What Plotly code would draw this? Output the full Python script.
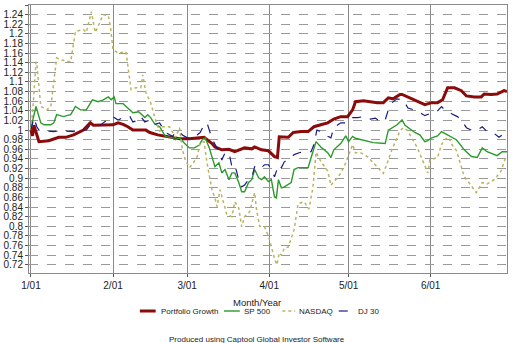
import pandas as pd
import plotly.graph_objects as go

START = "2001-01-01"

# Portfolio Growth (day offset from START, value)
pg_day = [0, 0.6, 1.1, 3.0, 6.7, 10.5, 13.1, 16.1, 19.8, 22.4, 23.6, 27.3, 31.0, 32.9, 34.8, 36.6,
          38.5, 43.4, 44.9, 47.9, 50.8, 53.5, 56.1, 59.8, 63.6, 65.4, 68.4, 69.5, 72.1, 74.8, 77.0,
          80.7, 83.4, 84.5, 87.1, 89.7, 92.0, 93.1, 93.8, 97.2, 99.1, 102.1, 104.7, 106.9, 109.5,
          112.1, 114.4, 117.0, 119.6, 121.5, 122.6, 125.6, 128.2, 130.8, 133.1, 135.0, 136.8, 139.4,
          140.2, 142.4, 145.0, 148.8, 151.4, 153.6, 155.5, 157.4, 160.0, 162.6, 164.5, 167.5, 170.1,
          171.2, 173.8, 176.1, 178.7, 179.8]
pg_val = [1.000, 0.988, 1.010, 0.976, 0.978, 0.985, 0.985, 0.990, 1.000, 1.015, 1.010, 1.011, 1.011,
          1.015, 1.012, 1.007, 1.000, 1.000, 0.995, 0.990, 0.987, 0.985, 0.982, 0.982, 0.984, 0.985,
          0.972, 0.965, 0.959, 0.960, 0.955, 0.963, 0.961, 0.965, 0.959, 0.957, 0.945, 0.943, 0.986,
          0.985, 0.995, 0.997, 0.997, 1.007, 1.011, 1.015, 1.023, 1.028, 1.028, 1.042, 1.059, 1.061,
          1.059, 1.057, 1.057, 1.067, 1.065, 1.074, 1.074, 1.069, 1.063, 1.053, 1.057, 1.057, 1.063,
          1.088, 1.088, 1.082, 1.071, 1.069, 1.069, 1.075, 1.074, 1.075, 1.082, 1.080]

# SP 500
sp_day = [0, 1.9, 3.7, 4.9, 7.5, 8.6, 9.7, 12.3, 13.5, 15.0, 16.8, 18.7, 20.9, 23.2, 25.4, 27.3, 29.2,
          30.3, 31.4, 32.1, 34.8, 36.6, 38.5, 40.7, 43.0, 44.1, 45.2, 46.7, 48.6, 50.8, 53.5, 54.6,
          56.1, 57.9, 59.8, 61.7, 63.6, 64.7, 65.8, 67.3, 68.4, 69.5, 71.0, 72.1, 73.3, 74.8, 75.9,
          77.0, 78.5, 79.6, 80.7, 82.2, 83.4, 84.5, 86.0, 87.1, 88.2, 89.7, 90.8, 92.0, 92.7, 93.5,
          94.6, 95.7, 98.3, 99.4, 100.9, 104.7, 106.5, 107.7, 109.5, 112.1, 113.3, 114.4, 117.0,
          118.9, 120.0, 121.5, 122.6, 127.1, 129.3, 133.8, 135.0, 138.3, 140.2, 141.3, 142.4, 145.0,
          146.9, 148.8, 149.9, 151.4, 153.6, 155.1, 156.3, 157.4, 160.7, 163.7, 166.4, 168.6, 170.5,
          172.3, 176.1, 178.0, 179.8]
sp_val = [1.005, 1.049, 1.015, 1.011, 1.011, 1.015, 1.032, 1.028, 1.030, 1.032, 1.049, 1.042, 1.042,
          1.063, 1.059, 1.063, 1.069, 1.063, 1.069, 1.055, 1.055, 1.046, 1.036, 1.038, 1.026, 1.032,
          1.026, 1.013, 1.007, 0.987, 0.984, 0.980, 0.984, 0.973, 0.963, 0.963, 0.969, 0.980, 0.984,
          0.964, 0.943, 0.924, 0.932, 0.911, 0.918, 0.897, 0.911, 0.911, 0.891, 0.872, 0.872, 0.891,
          0.897, 0.918, 0.901, 0.897, 0.903, 0.893, 0.897, 0.861, 0.859, 0.897, 0.880, 0.882, 0.891,
          0.918, 0.922, 0.922, 0.955, 0.976, 0.965, 0.953, 0.943, 0.959, 0.972, 0.988, 0.976, 0.987,
          0.983, 0.976, 0.974, 0.972, 1.000, 1.011, 1.021, 1.010, 1.005, 0.995, 0.990, 0.976, 0.978,
          0.984, 0.988, 0.997, 0.993, 0.990, 0.980, 0.959, 0.945, 0.943, 0.963, 0.955, 0.947, 0.955,
          0.955]

# NASDAQ
nq_day = [0, 0.8, 1.9, 2.2, 3.7, 6.0, 7.5, 9.7, 11.2, 15.0, 16.8, 19.8, 20.9, 22.8, 24.3, 27.3, 29.2,
          30.0, 31.0, 32.9, 35.9, 37.8, 39.6, 41.5, 42.2, 43.4, 45.2, 47.1, 48.6, 49.7, 52.3, 54.6,
          56.1, 57.2, 58.3, 59.8, 60.9, 62.8, 63.9, 65.4, 66.5, 68.4, 69.5, 70.3, 71.4, 72.9, 74.0,
          75.9, 77.0, 78.5, 79.6, 80.7, 82.6, 84.5, 85.2, 86.4, 88.2, 89.7, 90.8, 92.0, 92.9, 93.8,
          94.6, 95.7, 97.2, 98.3, 99.4, 100.9, 103.2, 105.0, 106.5, 107.7, 109.5, 112.1, 113.3, 115.1,
          117.0, 118.9, 120.0, 121.5, 122.6, 124.5, 127.1, 129.3, 132.0, 133.1, 135.0, 136.4, 139.4,
          140.6, 142.1, 143.2, 145.8, 148.8, 149.9, 150.7, 153.6, 155.1, 156.3, 157.8, 159.0, 160.7,
          163.7, 166.4, 168.2, 170.5, 172.3, 175.0, 177.6, 179.4]
nq_val = [1.000, 1.050, 1.142, 1.138, 1.049, 1.042, 1.049, 1.150, 1.146, 1.142, 1.205, 1.209, 1.203,
          1.246, 1.203, 1.240, 1.238, 1.215, 1.167, 1.160, 1.163, 1.084, 1.088, 1.088, 1.115, 1.078,
          1.057, 1.020, 0.997, 1.007, 1.007, 0.985, 1.005, 0.959, 0.938, 0.922, 0.928, 0.945, 0.974,
          0.976, 0.932, 0.875, 0.859, 0.841, 0.876, 0.848, 0.824, 0.820, 0.851, 0.838, 0.799, 0.820,
          0.830, 0.870, 0.835, 0.800, 0.799, 0.780, 0.757, 0.733, 0.720, 0.745, 0.740, 0.755, 0.757,
          0.775, 0.793, 0.847, 0.851, 0.836, 0.880, 0.954, 0.935, 0.915, 0.885, 0.897, 0.910, 0.932,
          0.950, 0.970, 0.953, 0.953, 0.945, 0.932, 0.918, 0.910, 0.938, 0.960, 0.998, 1.005, 1.000,
          0.990, 0.965, 0.926, 0.911, 0.938, 0.943, 0.970, 0.980, 0.985, 0.970, 0.958, 0.903, 0.884,
          0.870, 0.891, 0.888, 0.897, 0.915, 0.945]

# DJ 30
dj_day = [0, 1.1, 2.2, 3.0, 6.0, 7.5, 8.6, 12.3, 13.5, 16.1, 17.9, 20.9, 22.4, 24.3, 26.2, 27.3, 29.9,
          31.0, 32.9, 35.5, 37.4, 38.5, 40.4, 41.5, 43.0, 44.9, 46.0, 48.6, 49.7, 50.8, 53.5, 54.6,
          56.1, 57.2, 59.1, 60.2, 62.1, 63.9, 65.4, 66.5, 68.4, 71.0, 72.1, 73.3, 74.8, 75.9, 77.0,
          78.5, 79.6, 80.7, 82.2, 83.4, 84.5, 86.0, 87.1, 88.2, 89.7, 90.8, 92.0, 93.5, 94.6, 95.7,
          98.3, 99.4, 101.3, 103.2, 105.8, 106.9, 108.0, 109.5, 112.1, 113.3, 114.4, 117.0, 118.9,
          120.0, 121.5, 123.4, 125.6, 128.2, 130.1, 132.0, 133.8, 135.0, 136.4, 138.3, 140.6, 142.4,
          145.8, 148.8, 151.4, 153.3, 155.1, 156.3, 158.9, 161.1, 162.6, 164.5, 166.4, 168.6, 170.5,
          172.3, 175.0, 176.8, 178.0, 179.8]
dj_val = [1.000, 1.026, 1.007, 1.000, 0.998, 0.997, 0.997, 1.000, 0.998, 0.997, 1.003, 1.000, 1.011,
          1.008, 1.010, 1.015, 1.026, 1.028, 1.021, 1.028, 1.028, 1.017, 1.020, 1.028, 1.017, 1.021,
          1.011, 1.015, 1.005, 0.995, 0.987, 0.995, 0.997, 0.990, 0.984, 0.984, 0.987, 0.995, 1.011,
          1.015, 0.982, 0.955, 0.938, 0.953, 0.953, 0.924, 0.928, 0.897, 0.882, 0.886, 0.897, 0.901,
          0.924, 0.918, 0.922, 0.928, 0.928, 0.918, 0.903, 0.928, 0.922, 0.934, 0.943, 0.949, 0.953,
          0.955, 0.955, 0.970, 1.000, 0.997, 0.987, 0.984, 1.005, 1.015, 1.015, 1.021, 1.026, 1.026,
          1.028, 1.023, 1.025, 1.017, 1.021, 1.042, 1.057, 1.065, 1.063, 1.046, 1.040, 1.030, 1.036,
          1.038, 1.049, 1.042, 1.034, 1.028, 1.021, 1.005, 1.000, 1.000, 1.007, 0.997, 0.993, 0.985,
          0.990, 0.987]

month_ticks = ["2001-01-01", "2001-02-01", "2001-03-01", "2001-04-01", "2001-05-01", "2001-06-01"]
month_labels = ["1/01", "2/01", "3/01", "4/01", "5/01", "6/01"]

FONT = "Arial, Liberation Sans, sans-serif"
base = pd.Timestamp(START)


def to_dates(days):
    return base + pd.to_timedelta(days, unit="D")


series = [
    ("Portfolio Growth", pg_day, pg_val, dict(color="#8b0a0a", width=3)),
    ("SP 500", sp_day, sp_val, dict(color="#2a9a2a", width=1.4)),
    ("NASDAQ", nq_day, nq_val, dict(color="#b8b460", width=1.5, dash="dot")),
    ("DJ 30", dj_day, dj_val, dict(color="#1a1a8a", width=1.2, dash="dash")),
]

# compact legend layout (paper fractions): sample start, sample end, text start
legend_slots = [(0.2319, 0.2650, 0.2712), (0.4079, 0.4410, 0.4451),
                (0.5300, 0.5569, 0.5611), (0.6480, 0.6791, 0.6832)]
LEGEND_Y = -0.1418

fig = go.Figure()
shapes = []
annotations = []
for (name, d, v, ln), (s0, s1, t0) in zip(series, legend_slots):
    fig.add_trace(go.Scatter(x=to_dates(d), y=v, mode="lines", name=name, line=ln,
                             showlegend=False))
    shapes.append(dict(type="line", xref="paper", yref="paper", x0=s0, x1=s1,
                       y0=LEGEND_Y, y1=LEGEND_Y, line=ln))
    annotations.append(dict(text=name, xref="paper", yref="paper", x=t0, y=LEGEND_Y,
                            xanchor="left", yanchor="middle", showarrow=False,
                            font=dict(size=8, family=FONT, color="#222")))

annotations += [
    dict(text="Month/Year", xref="paper", yref="paper", x=0.478, y=-0.083,
         xanchor="center", yanchor="top", showarrow=False,
         font=dict(size=9.5, family=FONT, color="#222")),
    dict(text="Produced using Captool Global Investor Software", xref="paper", yref="paper",
         x=0.478, y=-0.225, xanchor="center", yanchor="top", showarrow=False,
         font=dict(size=8, family=FONT, color="#222")),
]

fig.update_layout(
    width=512, height=343,
    margin=dict(l=25, r=4, t=5, b=70),
    paper_bgcolor="white", plot_bgcolor="white",
    font=dict(family=FONT, size=10, color="#222"),
    showlegend=False,
    xaxis=dict(
        type="date",
        range=["2000-12-31 06:00", "2001-06-29 20:00"],
        tickvals=month_ticks, ticktext=month_labels,
        ticks="outside", ticklen=3, tickcolor="#555",
        showgrid=True, gridcolor="#8a8a8a", gridwidth=1,
        showline=True, linecolor="#8a8a8a", mirror=True,
        tickfont=dict(size=10, family=FONT, color="#222"),
        zeroline=False,
    ),
    yaxis=dict(
        range=[0.703, 1.26],
        tick0=0.72, dtick=0.02,
        ticks="outside", ticklen=3, tickcolor="#555",
        showgrid=True, gridcolor="#999", griddash="dash", gridwidth=1,
        showline=True, linecolor="#8a8a8a", mirror=True,
        tickfont=dict(size=10, family=FONT, color="#222"),
        zeroline=False,
    ),
    shapes=shapes,
    annotations=annotations,
)

fig.write_html("out.html")
